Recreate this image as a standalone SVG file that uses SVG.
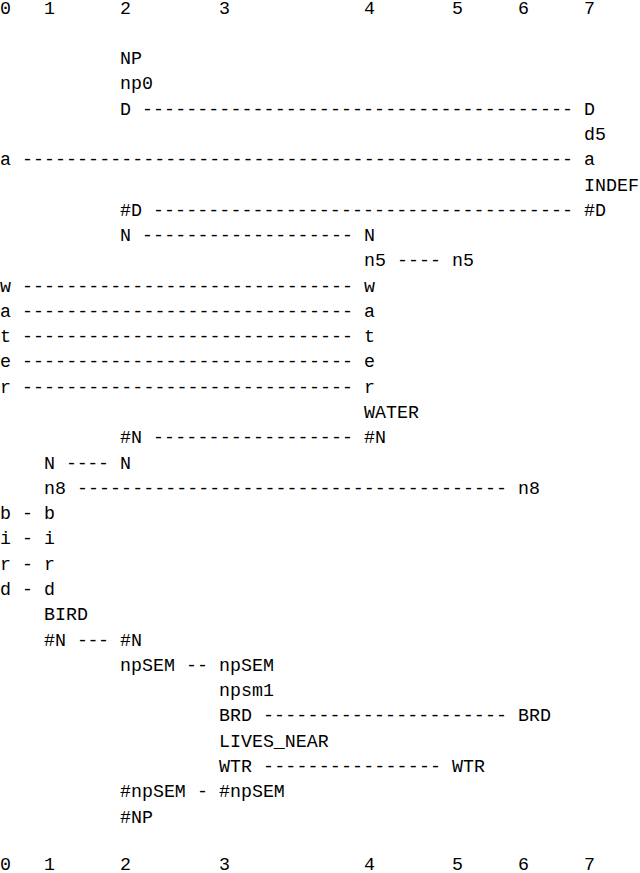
<svg xmlns="http://www.w3.org/2000/svg" width="640" height="873" viewBox="0 0 640 873">
<style>
text{font-family:"Liberation Mono","DejaVu Sans Mono",monospace;font-size:18.3px;fill:#000;white-space:pre}
</style>
<rect width="640" height="873" fill="#fff"/>
<g id="header-top">
<text x="0" y="13.5">0</text><text x="44" y="13.5">1</text><text x="120" y="13.5">2</text><text x="219" y="13.5">3</text><text x="364" y="13.5">4</text><text x="452" y="13.5">5</text><text x="518" y="13.5">6</text><text x="584" y="13.5">7</text>
</g>
<g id="header-bottom">
<text x="0" y="869.5">0</text><text x="44" y="869.5">1</text><text x="120" y="869.5">2</text><text x="219" y="869.5">3</text><text x="364" y="869.5">4</text><text x="452" y="869.5">5</text><text x="518" y="869.5">6</text><text x="584" y="869.5">7</text>
</g>
<g id="col2-NP"><text x="120" y="64.1">NP</text><text x="120" y="89.3">np0</text></g>
<g id="n-D-left"><text x="120" y="114.6">D</text></g>
<g id="n-D-right"><text x="584" y="114.6">D</text><text x="584" y="139.9">d5</text></g>
<g id="n-a-left"><text x="0" y="165.2">a</text></g>
<g id="n-a-right"><text x="584" y="165.2">a</text><text x="584" y="190.5">INDEF</text></g>
<g id="n-hD-left"><text x="120" y="215.7">#D</text></g>
<g id="n-hD-right"><text x="584" y="215.7">#D</text></g>
<g id="n-N-left"><text x="120" y="241.0">N</text></g>
<g id="n-N-right"><text x="364" y="241.0">N</text><text x="364" y="266.3">n5</text></g>
<g id="n-n5-right"><text x="452" y="266.3">n5</text></g>
<g id="n-water-left"><text x="0" y="291.6">w</text><text x="0" y="316.9">a</text><text x="0" y="342.1">t</text><text x="0" y="367.4">e</text><text x="0" y="392.7">r</text></g>
<g id="n-water-right"><text x="364" y="291.6">w</text><text x="364" y="316.9">a</text><text x="364" y="342.1">t</text><text x="364" y="367.4">e</text><text x="364" y="392.7">r</text><text x="364" y="418.0">WATER</text></g>
<g id="n-hN-left"><text x="120" y="443.3">#N</text></g>
<g id="n-hN-right"><text x="364" y="443.3">#N</text></g>
<g id="n-N2-left"><text x="44" y="468.5">N</text><text x="44" y="493.8">n8</text></g>
<g id="n-N2-right"><text x="120" y="468.5">N</text></g>
<g id="n-n8-right"><text x="518" y="493.8">n8</text></g>
<g id="n-bird-left"><text x="0" y="519.1">b</text><text x="0" y="544.4">i</text><text x="0" y="569.7">r</text><text x="0" y="595.0">d</text></g>
<g id="n-bird-right"><text x="44" y="519.1">b</text><text x="44" y="544.4">i</text><text x="44" y="569.7">r</text><text x="44" y="595.0">d</text><text x="44" y="620.2">BIRD</text><text x="44" y="645.5">#N</text></g>
<g id="n-hN2-right"><text x="120" y="645.5">#N</text></g>
<g id="n-npSEM-left"><text x="120" y="670.8">npSEM</text></g>
<g id="n-npSEM-right"><text x="219" y="670.8">npSEM</text><text x="219" y="696.1">npsm1</text><text x="219" y="721.4">BRD</text><text x="219" y="746.6">LIVES_NEAR</text><text x="219" y="771.9">WTR</text></g>
<g id="n-BRD-right"><text x="518" y="721.4">BRD</text></g>
<g id="n-WTR-right"><text x="452" y="771.9">WTR</text></g>
<g id="n-hnpSEM-left"><text x="120" y="797.2">#npSEM</text><text x="120" y="822.5">#NP</text></g>
<g id="n-hnpSEM-right"><text x="219" y="797.2">#npSEM</text></g>
<g id="connectors">
<text x="142" y="114.6" textLength="431" lengthAdjust="spacing">---------------------------------------</text>
<text x="22" y="165.2" textLength="551" lengthAdjust="spacing">--------------------------------------------------</text>
<text x="153" y="215.7" textLength="420" lengthAdjust="spacing">--------------------------------------</text>
<text x="142" y="241.0" textLength="211" lengthAdjust="spacing">-------------------</text>
<text x="397" y="266.3" textLength="44" lengthAdjust="spacing">----</text>
<text x="22" y="291.6" textLength="331" lengthAdjust="spacing">------------------------------</text>
<text x="22" y="316.9" textLength="331" lengthAdjust="spacing">------------------------------</text>
<text x="22" y="342.1" textLength="331" lengthAdjust="spacing">------------------------------</text>
<text x="22" y="367.4" textLength="331" lengthAdjust="spacing">------------------------------</text>
<text x="22" y="392.7" textLength="331" lengthAdjust="spacing">------------------------------</text>
<text x="153" y="443.3" textLength="200" lengthAdjust="spacing">------------------</text>
<text x="66" y="468.5" textLength="43" lengthAdjust="spacing">----</text>
<text x="77" y="493.8" textLength="430" lengthAdjust="spacing">---------------------------------------</text>
<text x="22" y="519.1">-</text>
<text x="22" y="544.4">-</text>
<text x="22" y="569.7">-</text>
<text x="22" y="595.0">-</text>
<text x="77" y="645.5" textLength="32" lengthAdjust="spacing">---</text>
<text x="186" y="670.8" textLength="22" lengthAdjust="spacing">--</text>
<text x="263" y="721.4" textLength="244" lengthAdjust="spacing">----------------------</text>
<text x="263" y="771.9" textLength="178" lengthAdjust="spacing">----------------</text>
<text x="197" y="797.2">-</text>
</g>
</svg>
